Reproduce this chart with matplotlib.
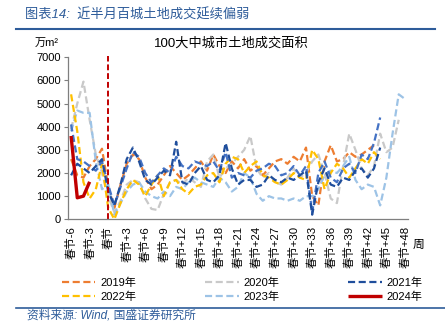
import numpy as np
import matplotlib
matplotlib.use("Agg")
import matplotlib.pyplot as plt
from matplotlib.lines import Line2D

plt.rcParams['font.family'] = ['Liberation Sans', 'Noto Sans CJK SC', 'DejaVu Sans']

nan = np.nan
weeks = list(range(-6, 49))

# 万m², weeks 春节-6 .. 春节+48
y2019 = [2600, 1900, 1800, 2300, 2600, 3050, 1400, 500, 1500, 2400, 2800, 2600, 1800, 1300,
         1500, 1900, 2300, 2000, 1700, 1900, 2200, 2500, 2100, 2800, 2300, 2000, 2500, 2200,
         2600, 2100, 2300, 1900, 2200, 2500, 2600, 2400, 2700, 2500, 3100, 1000, 600, 2500,
         3200, 2500, 2600, 2900, 2700, 2800, 3000, 3200, nan, nan, nan, nan, nan]
y2020 = [3900, 5000, 5950, 4300, 2800, 2000, 1000, 300, 800, 1500, 1700, 1600, 900, 450,
         400, 1100, 1600, 1700, 1500, 1800, 1600, 1400, 2500, 2800, 1800, 2200, 2400, 2700,
         3000, 3600, 2200, 1800, 2000, 1600, 1500, 1800, 2200, 1800, 2000, 2500, 2800, 2000,
         900, 700, 2300, 3700, 3000, 2200, 1900, 2300, 3700, 2900, 3100, 4300, nan]
y2021 = [1900, 2400, 2200, 2000, 2300, 2600, 1200, 600, 1500, 2600, 3100, 2500, 1700, 1500,
         1800, 2100, 1900, 3350, 1600, 1500, 2000, 2300, 1700, 1600, 1900, 3300, 2200, 1500,
         1700, 1700, 1400, 1500, 1900, 1700, 1600, 1800, 1700, 1900, 2100, 200, 1600, 2200,
         1500, 1400, 1800, 1700, 2100, 2200, 1800, 2200, 3100, nan, nan, nan, nan]
y2021b = [4100, 2600, 2500, 2300, 2100, 2500, 1500, 600, 1400, 2200, 2900, 2700, 2000, 1600,
          1900, 2200, 2000, 2700, 2300, 2200, 2500, 2400, 2300, 2500, 2100, 2900, 1800, 2000,
          1900, 1800, 2100, 2200, 2400, 2300, 1900, 2000, 2300, 1900, 2300, 300, 2000, 2500,
          1800, 1600, 2200, 2400, 2000, 2800, 2600, 3300, 4400, nan, nan, nan, nan]
y2022 = [5400, 3800, 1600, 900, 1300, 2400, 500, 0, 700, 1300, 1700, 1500, 1000, 1500,
         1900, 1000, 1600, 1700, 1300, 1100, 1400, 1500, 1900, 2000, 1600, 2400, 2700, 2600,
         2000, 2300, 2500, 1900, 1800, 1600, 1500, 1700, 2000, 1800, 1700, 3000, 2600, 1300,
         2000, 2400, 2200, 1800, 2200, 2600, 2400, 2900, 2600, nan, nan, nan, nan]
y2023 = [3800, 4700, 4600, 4600, 2500, 1300, 1500, 200, 700, 1200, 1500, 1600, 1200, 1000,
         900, 1200, 1000, 1400, 1300, 1600, 1800, 1600, 1500, 1400, 1800, 1600, 1200, 1400,
         2000, 1800, 1100, 800, 1000, 900, 900, 800, 900, 800, 1000, 1000, 1300, 1900,
         2100, 2000, 2300, 2700, 1700, 1300, 1500, 1400, 600, 1800, 3700, 5400, 5200]
y2024 = [3600, 930, 1000, 1620] + [nan] * 51

tick_weeks = list(range(-6, 49, 3))
tick_labels = ['春节' if w == 0 else '春节%+d' % w for w in tick_weeks]

fig = plt.figure(figsize=(4.45, 3.32), dpi=100)
ax = fig.add_axes([68 / 445, 1 - 219.3 / 332, 340 / 445, 162 / 332])

dash = (0, (3.2, 1.6))
series = [
    (y2019, '#ED7D31', '2019年'),
    (y2020, '#C9C9C9', '2020年'),
    (y2023, '#9DC3E6', '2023年'),
    (y2022, '#FFC000', '2022年'),
    (y2021b, '#4472C4', '_nolegend_'),
    (y2021, '#1F4E9C', '2021年'),
]
for vals, col, lab in series:
    ax.plot(weeks, vals, color=col, lw=1.6, ls=dash, label=lab)
ax.plot(weeks, y2024, color='#C00000', lw=2.4, solid_capstyle='butt', label='2024年', zorder=5)

ax.axvline(0, ymin=0, ymax=1.01, color='#C00000', lw=1.4, ls=(0, (3, 1.5)), clip_on=False)

ax.set_xlim(-6.5, 48.5)
ax.set_ylim(0, 7000)
ax.set_yticks(range(0, 7001, 1000))
ax.set_xticks(tick_weeks)
ax.set_xticklabels(tick_labels, rotation=90, fontsize=8.2)
ax.tick_params(axis='x', length=0, pad=5)
ax.tick_params(axis='y', length=3, width=0.8, color='#7F7F7F', labelsize=8, pad=2)
for s in ['top', 'right']:
    ax.spines[s].set_visible(False)
for s in ['left', 'bottom']:
    ax.spines[s].set_color('#7F7F7F')
    ax.spines[s].set_linewidth(0.9)

fig.text(231 / 445, 1 - 43 / 332, '100大中城市土地成交面积', fontsize=9.5, ha='center', va='center')
fig.text(47 / 445, 1 - 43 / 332, '万m²', fontsize=8, ha='center', va='center')
fig.text(419 / 445, 1 - 245 / 332, '周', fontsize=8.5, ha='center', va='center')

blue = '#2E5C9A'
fig.text(25 / 445, 1 - 15 / 332, '图表14:  近半月百城土地成交延续偏弱', fontsize=9.5,
         color=blue, ha='left', va='center', style='italic')
fig.add_artist(Line2D([16 / 445, 435 / 445], [1 - 29 / 332] * 2, color=blue, lw=1.5))
fig.add_artist(Line2D([16 / 445, 445 / 445], [1 - 308 / 332] * 2, color=blue, lw=1.2))
fig.text(27 / 445, 1 - 316 / 332, '资料来源: Wind, 国盛证券研究所', fontsize=8.5,
         color=blue, ha='left', va='center', style='italic')

h, l = ax.get_legend_handles_labels()
order = ['2019年', '2022年', '2020年', '2023年', '2021年', '2024年']
hd = dict(zip(l, h))
fig.legend([hd[k] for k in order], order, ncol=3, loc='center left',
           bbox_to_anchor=(52 / 445, 1 - 289.5 / 332), frameon=False, fontsize=8,
           handlelength=3.0, handletextpad=0.45, columnspacing=6.2, labelspacing=0.3)

fig.savefig('out.png', dpi=100)
